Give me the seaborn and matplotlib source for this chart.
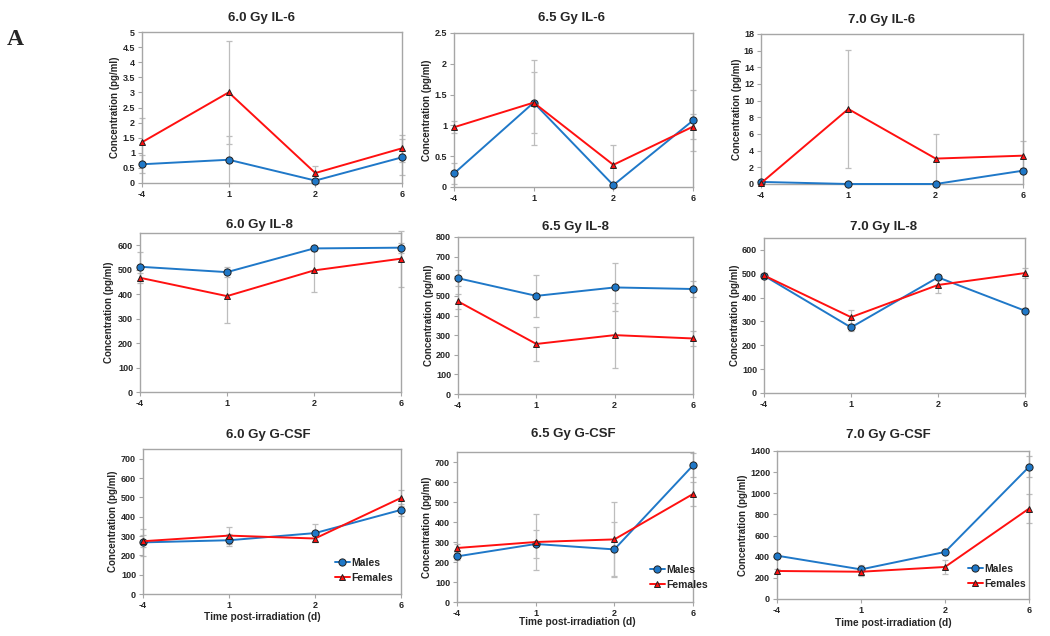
import numpy as np
import pandas as pd
import matplotlib
matplotlib.use("Agg")
import matplotlib.pyplot as plt
import seaborn as sns

sns.set_theme(style="white")
plt.rcParams['font.family'] = ['Liberation Sans', 'DejaVu Sans']
plt.rcParams['font.weight'] = 'bold'

# ---------------- data ----------------
times = ['-4', '1', '2', '6']

il6_60_m = [0.62, 0.77, 0.08, 0.85]
il6_60_f = [1.35, 3.00, 0.33, 1.15]
il6_60_me = [0.30, 0.78, 0.05, 0.60]
il6_60_fe = [0.80, 1.70, 0.22, 0.45]

il6_65_m = [0.22, 1.37, 0.03, 1.08]
il6_65_f = [0.97, 1.37, 0.36, 0.98]
il6_65_me = [0.17, 0.50, 0.03, 0.50]
il6_65_fe = [0.10, 0.69, 0.32, 0.20]

il6_70_m = [0.25, 0.00, 0.00, 1.60]
il6_70_f = [0.10, 9.00, 3.05, 3.40]
il6_70_me = [0.10, 0.05, 0.05, 0.30]
il6_70_fe = [0.10, 7.05, 3.00, 1.70]

il8_60_m = [512, 490, 587, 590]
il8_60_f = [467, 392, 497, 545]
il8_60_me = [60, 20, 10, 20]
il8_60_fe = [20, 110, 87, 115]

il8_65_m = [590, 500, 543, 535]
il8_65_f = [472, 255, 300, 283]
il8_65_me = [40, 107, 122, 40]
il8_65_fe = [40, 85, 165, 40]

il8_70_m = [492, 275, 485, 345]
il8_70_f = [493, 318, 453, 503]
il8_70_me = [10, 15, 10, 10]
il8_70_fe = [10, 32, 35, 20]

gcsf_60_m = [267, 278, 315, 435]
gcsf_60_f = [273, 302, 287, 497]
gcsf_60_me = [70, 30, 45, 30]
gcsf_60_fe = [30, 45, 20, 40]

gcsf_65_m = [228, 290, 263, 683]
gcsf_65_f = [270, 300, 313, 540]
gcsf_65_me = [20, 70, 135, 60]
gcsf_65_fe = [20, 142, 187, 60]

gcsf_70_m = [410, 280, 445, 1250]
gcsf_70_f = [265, 258, 303, 855]
gcsf_70_me = [20, 40, 20, 100]
gcsf_70_fe = [20, 40, 65, 140]

titles = ['6.0 Gy IL-6', '6.5 Gy IL-6', '7.0 Gy IL-6',
          '6.0 Gy IL-8', '6.5 Gy IL-8', '7.0 Gy IL-8',
          '6.0 Gy G-CSF', '6.5 Gy G-CSF', '7.0 Gy G-CSF']
series = [(il6_60_m, il6_60_f, il6_60_me, il6_60_fe),
          (il6_65_m, il6_65_f, il6_65_me, il6_65_fe),
          (il6_70_m, il6_70_f, il6_70_me, il6_70_fe),
          (il8_60_m, il8_60_f, il8_60_me, il8_60_fe),
          (il8_65_m, il8_65_f, il8_65_me, il8_65_fe),
          (il8_70_m, il8_70_f, il8_70_me, il8_70_fe),
          (gcsf_60_m, gcsf_60_f, gcsf_60_me, gcsf_60_fe),
          (gcsf_65_m, gcsf_65_f, gcsf_65_me, gcsf_65_fe),
          (gcsf_70_m, gcsf_70_f, gcsf_70_me, gcsf_70_fe)]
ylims = [(0, 5, 0.5), (0, 2.5, 0.5), (0, 18, 2),
         (0, 650, 100), (0, 800, 100), (0, 650, 100),
         (0, 750, 100), (0, 750, 100), (0, 1400, 200)]

# ---------------- layout (pixels) ----------------
W, H = 1050, 636
# left, right, top, bottom
rects = [(142, 402, 32, 183), (454, 693, 33, 187), (761, 1023, 34, 184),
         (140, 401, 233, 392), (458, 693, 237, 394), (764, 1025, 238, 393),
         (143, 401, 449, 594), (457, 693, 452, 602), (777, 1029, 451, 599)]
title_pos = [(261, 18), (572, 18), (882, 20),
             (259, 225), (575, 227), (884, 227),
             (268, 435), (573, 434), (888, 435)]
ylab_x = [115, 427, 737, 109, 429, 735, 113, 427, 743]
xlab_pos = {6: (262, 617), 7: (577, 622), 8: (893, 623)}
leg_pos = {6: (335, 558), 7: (650, 565), 8: (968, 564)}

blue = '#1F78C8'
red = '#FF1010'
grid_gray = '#A6A6A6'
err_gray = '#BDBDBD'

fig = plt.figure(figsize=(W / 100, H / 100), dpi=100)
fig.patch.set_facecolor('white')

pos = np.arange(len(times))


def shrink_triangles(lines):
    for ln in lines:
        if ln.get_marker() == '^':
            ln.set_markersize(4.6)


for i in range(9):
    l, r, t, b = rects[i]
    ax = fig.add_axes([l / W, 1 - b / H, (r - l) / W, (b - t) / H])
    m, f, me, fe = series[i]
    df = pd.DataFrame({
        'pos': np.concatenate([pos, pos]),
        'value': list(m) + list(f),
        'sex': ['Males'] * len(m) + ['Females'] * len(f),
    })
    for vals, errs in ((m, me), (f, fe)):
        eb = ax.errorbar(pos, vals, yerr=errs, fmt='none', ecolor=err_gray,
                         elinewidth=0.9, capsize=2, capthick=0.9, zorder=1)
        for art in eb.lines[1] + eb.lines[2]:
            art.set_clip_on(False)
    sns.lineplot(data=df, x='pos', y='value', hue='sex', style='sex',
                 hue_order=['Males', 'Females'],
                 palette={'Males': blue, 'Females': red},
                 markers={'Males': 'o', 'Females': '^'}, dashes=False,
                 linewidth=1.4, markersize=5.2, markeredgecolor='#202020',
                 markeredgewidth=0.7, ax=ax, legend=(i >= 6), zorder=3,
                 clip_on=False)
    shrink_triangles(ax.lines)
    lo, hi, step = ylims[i]
    ax.set_ylim(lo, hi)
    yt = np.arange(lo, hi + 1e-9, step)
    if i in (3, 5, 6, 7):
        yt = yt[yt <= hi - step * 0.5]
    ax.set_yticks(yt)
    ax.set_yticklabels([('%g' % v) for v in yt])
    ax.set_xlim(0, len(times) - 1)
    ax.set_xticks(pos)
    ax.set_xticklabels(times)
    ax.set_xlabel('')
    ax.set_ylabel('')
    for s in ax.spines.values():
        s.set_color(grid_gray)
        s.set_linewidth(1.0)
    ax.tick_params(axis='both', which='major', length=3, width=0.8,
                   color=grid_gray, labelsize=6.5, pad=2, direction='out',
                   bottom=True, left=True)
    for lab in ax.get_xticklabels() + ax.get_yticklabels():
        lab.set_fontweight('bold')
    tx, ty = title_pos[i]
    fig.text(tx / W, 1 - ty / H, titles[i], ha='center', va='center',
             fontsize=9.5, fontweight='bold')
    fig.text(ylab_x[i] / W, 1 - ((t + b) / 2) / H, 'Concentration (pg/ml)',
             rotation=90, ha='center', va='center', fontsize=7,
             fontweight='bold')
    if i >= 6:
        xx, xy = xlab_pos[i]
        fig.text(xx / W, 1 - xy / H, 'Time post-irradiation (d)', ha='center',
                 va='center', fontsize=7.3, fontweight='bold')
        handles, labels = ax.get_legend_handles_labels()
        if ax.get_legend() is not None:
            ax.get_legend().remove()
        shrink_triangles(handles)
        lx, ly = leg_pos[i]
        ax.legend(handles, labels, loc='upper left',
                  bbox_to_anchor=(lx / W, 1 - ly / H),
                  bbox_transform=fig.transFigure, frameon=False,
                  handlelength=1.4, handletextpad=0.2,
                  labelspacing=0.45, borderpad=0, borderaxespad=0,
                  prop={'weight': 'bold', 'size': 7.5})

fig.text(7 / W, 1 - 45 / H, 'A', ha='left', va='baseline', fontsize=17,
         fontweight='bold', family=['Liberation Serif', 'DejaVu Serif'])

fig.savefig('out.png', dpi=100)
